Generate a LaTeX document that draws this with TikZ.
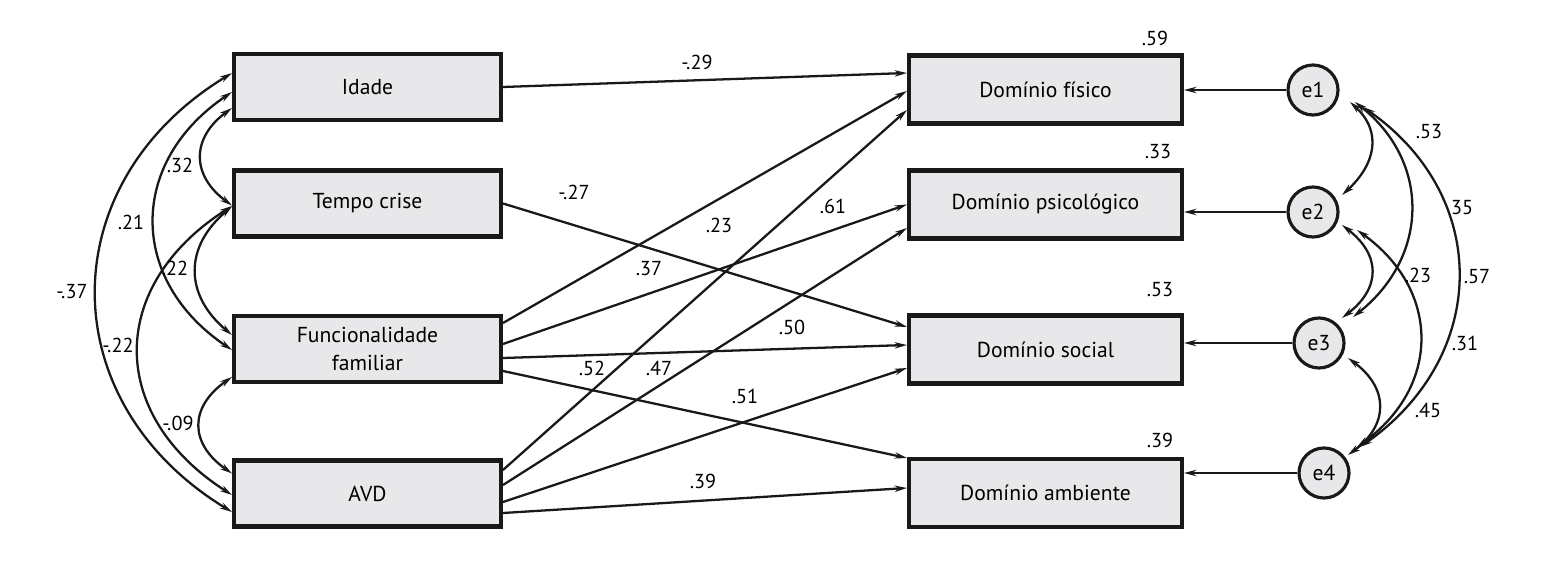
\documentclass[tikz,border=0pt]{standalone}
\usepackage{fontspec}
\setmainfont{PT Sans}
\usetikzlibrary{arrows.meta,calc}
\definecolor{boxgray}{RGB}{232,231,233}
\tikzset{
  obs/.style={draw=black!90, line width=2.3pt, fill=boxgray, minimum width=5.34cm, minimum height=1.32cm,
    inner sep=0pt, align=center, font=\fontsize{12.3}{15.4}\selectfont},
  dep/.style={obs, minimum width=5.46cm, minimum height=1.36cm},
  err/.style={circle, draw=black!90, line width=1.8pt, fill=boxgray, minimum size=1cm, inner sep=0pt,
    font=\fontsize{12.3}{14}\selectfont},
  reg/.style={-{Stealth[length=7pt,width=3.6pt]}, line width=1.3pt, black!90},
  cov/.style={{Stealth[length=7pt,width=3.6pt]}-{Stealth[length=7pt,width=3.6pt]}, line width=1.3pt, black!90},
  coef/.style={inner sep=1pt, font=\fontsize{11.5}{13}\selectfont}
}
\begin{document}
\begin{tikzpicture}[x=0.02cm, y=-0.02cm]
\useasboundingbox (0,0) rectangle (1558,580);
%exogenous
\node[obs] (idade) at (367.5,87) {Idade};
\node[obs] (tempo) at (367.5,203.5) {Tempo crise};
\node[obs] (func) at (367.5,349) {Funcionalidade\\familiar};
\node[obs] (avd) at (367.5,493.5) {AVD};
%endogenous
\node[dep] (fisico) at (1045.5,89.5) {Domínio físico};
\node[dep] (psico) at (1045.5,204.5) {Domínio psicológico};
\node[dep] (social) at (1045.5,349.5) {Domínio social};
\node[dep] (amb) at (1045.5,493) {Domínio ambiente};
\node[coef] (r1) at (1155,38) {.59};
\node[coef] (r2) at (1158,152) {.33};
\node[coef] (r3) at (1160,290) {.53};
\node[coef] (r4) at (1160,440) {.39};
%errors
\node[err] (e1) at (1313,90) {e1};
\node[err] (e2) at (1313,212) {e2};
\node[err] (e3) at (1319,343) {e3};
\node[err] (e4) at (1324,473) {e4};
\foreach \e/\d in {e1/fisico,e2/psico,e3/social,e4/amb}
  \draw[reg] (\e.west) -- (\e.west -| \d.east);
%paths
\draw[reg] (idade.east) -- ($(fisico.west)+(0,-16.5)$);
\draw[reg] (tempo.east) -- ($(social.west)+(0,-22.5)$);
\draw[reg] ($(func.east)+(0,-26)$) -- ($(fisico.west)+(0,1.5)$);
\draw[reg] ($(func.east)+(0,-5)$) -- (psico.west);
\draw[reg] ($(func.east)+(0,9)$) -- ($(social.west)+(0,-4.5)$);
\draw[reg] ($(func.east)+(0,22)$) -- ($(amb.west)+(0,-35)$);
\draw[reg] ($(avd.east)+(0,-23.5)$) -- ($(fisico.west)+(0,20.5)$);
\draw[reg] ($(avd.east)+(0,-8.5)$) -- ($(psico.west)+(0,23.5)$);
\draw[reg] ($(avd.east)+(0,8.5)$) -- ($(social.west)+(0,18.5)$);
\draw[reg] ($(avd.east)+(0,19.5)$) -- ($(amb.west)+(0,-5)$);
\node[coef] (p1) at (697,62) {-.29};
\node[coef] (p2) at (574,192) {-.27};
\node[coef] (p3) at (719,225) {.23};
\node[coef] (p4) at (833,206) {.61};
\node[coef] (p5) at (649,269) {.37};
\node[coef] (p6) at (792,327) {.50};
\node[coef] (p7) at (592,368) {.52};
\node[coef] (p8) at (659,368) {.47};
\node[coef] (p9) at (745,396) {.51};
\node[coef] (p10) at (703,481) {.39};
%covariances left
\draw[cov] ($(idade.west)+(0,21)$) .. controls +(-41,30) and +(-41,-30) .. ($(tempo.west)+(0,2)$);
\draw[cov] ($(tempo.west)+(0,3)$) .. controls +(-48,40) and +(-48,-40) .. ($(func.west)+(0,-14)$);
\draw[cov] ($(idade.west)+(0,5)$) .. controls +(-104,70) and +(-104,-70) .. ($(func.west)+(0,1)$);
\draw[cov] ($(tempo.west)+(0,2.5)$) .. controls +(-125,80) and +(-125,-80) .. ($(avd.west)+(0,1.5)$);
\draw[cov] ($(idade.west)+(0,-14)$) .. controls +(-181,110) and +(-181,-110) .. ($(avd.west)+(0,18.5)$);
\draw[cov] ($(func.west)+(0,28)$) .. controls +(-43,30) and +(-43,-30) .. ($(avd.west)+(0,-20)$);
\node[coef] (c1) at (180,165) {.32};
\node[coef] (c2) at (175,268) {.22};
\node[coef] (c3) at (131,222) {.21};
\node[coef] (c4) at (118,345) {-.22};
\node[coef] (c5) at (72,292) {-.37};
\node[coef] (c6) at (178,423) {-.09};
%covariances right
\draw[cov] ($(e1)+(37,12)$) .. controls +(33,30) and +(33,-30) .. ($(e2)+(29,-17)$);
\draw[cov] ($(e1)+(42,12)$) .. controls +(76,60) and +(76,-60) .. ($(e3)+(34,-26)$);
\draw[cov] ($(e1)+(50,17)$) .. controls +(129,90) and +(129,-90) .. ($(e4)+(36,-26)$);
\draw[cov] ($(e2)+(29,13)$) .. controls +(39,30) and +(39,-30) .. ($(e3)+(23,-25)$);
\draw[cov] ($(e2)+(44,18)$) .. controls +(84,60) and +(84,-60) .. ($(e4)+(33,-26)$);
\draw[cov] ($(e3)+(29,15)$) .. controls +(41,30) and +(41,-30) .. ($(e4)+(24,-18)$);
\node[coef] (d1) at (1429,132) {.53};
\node[coef] (d2) at (1462,208) {35};
\node[coef] (d3) at (1418,275) {.23};
\node[coef] (d4) at (1477,277) {.57};
\node[coef] (d5) at (1465,343) {.31};
\node[coef] (d6) at (1428,410) {.45};
\end{tikzpicture}
\end{document}
